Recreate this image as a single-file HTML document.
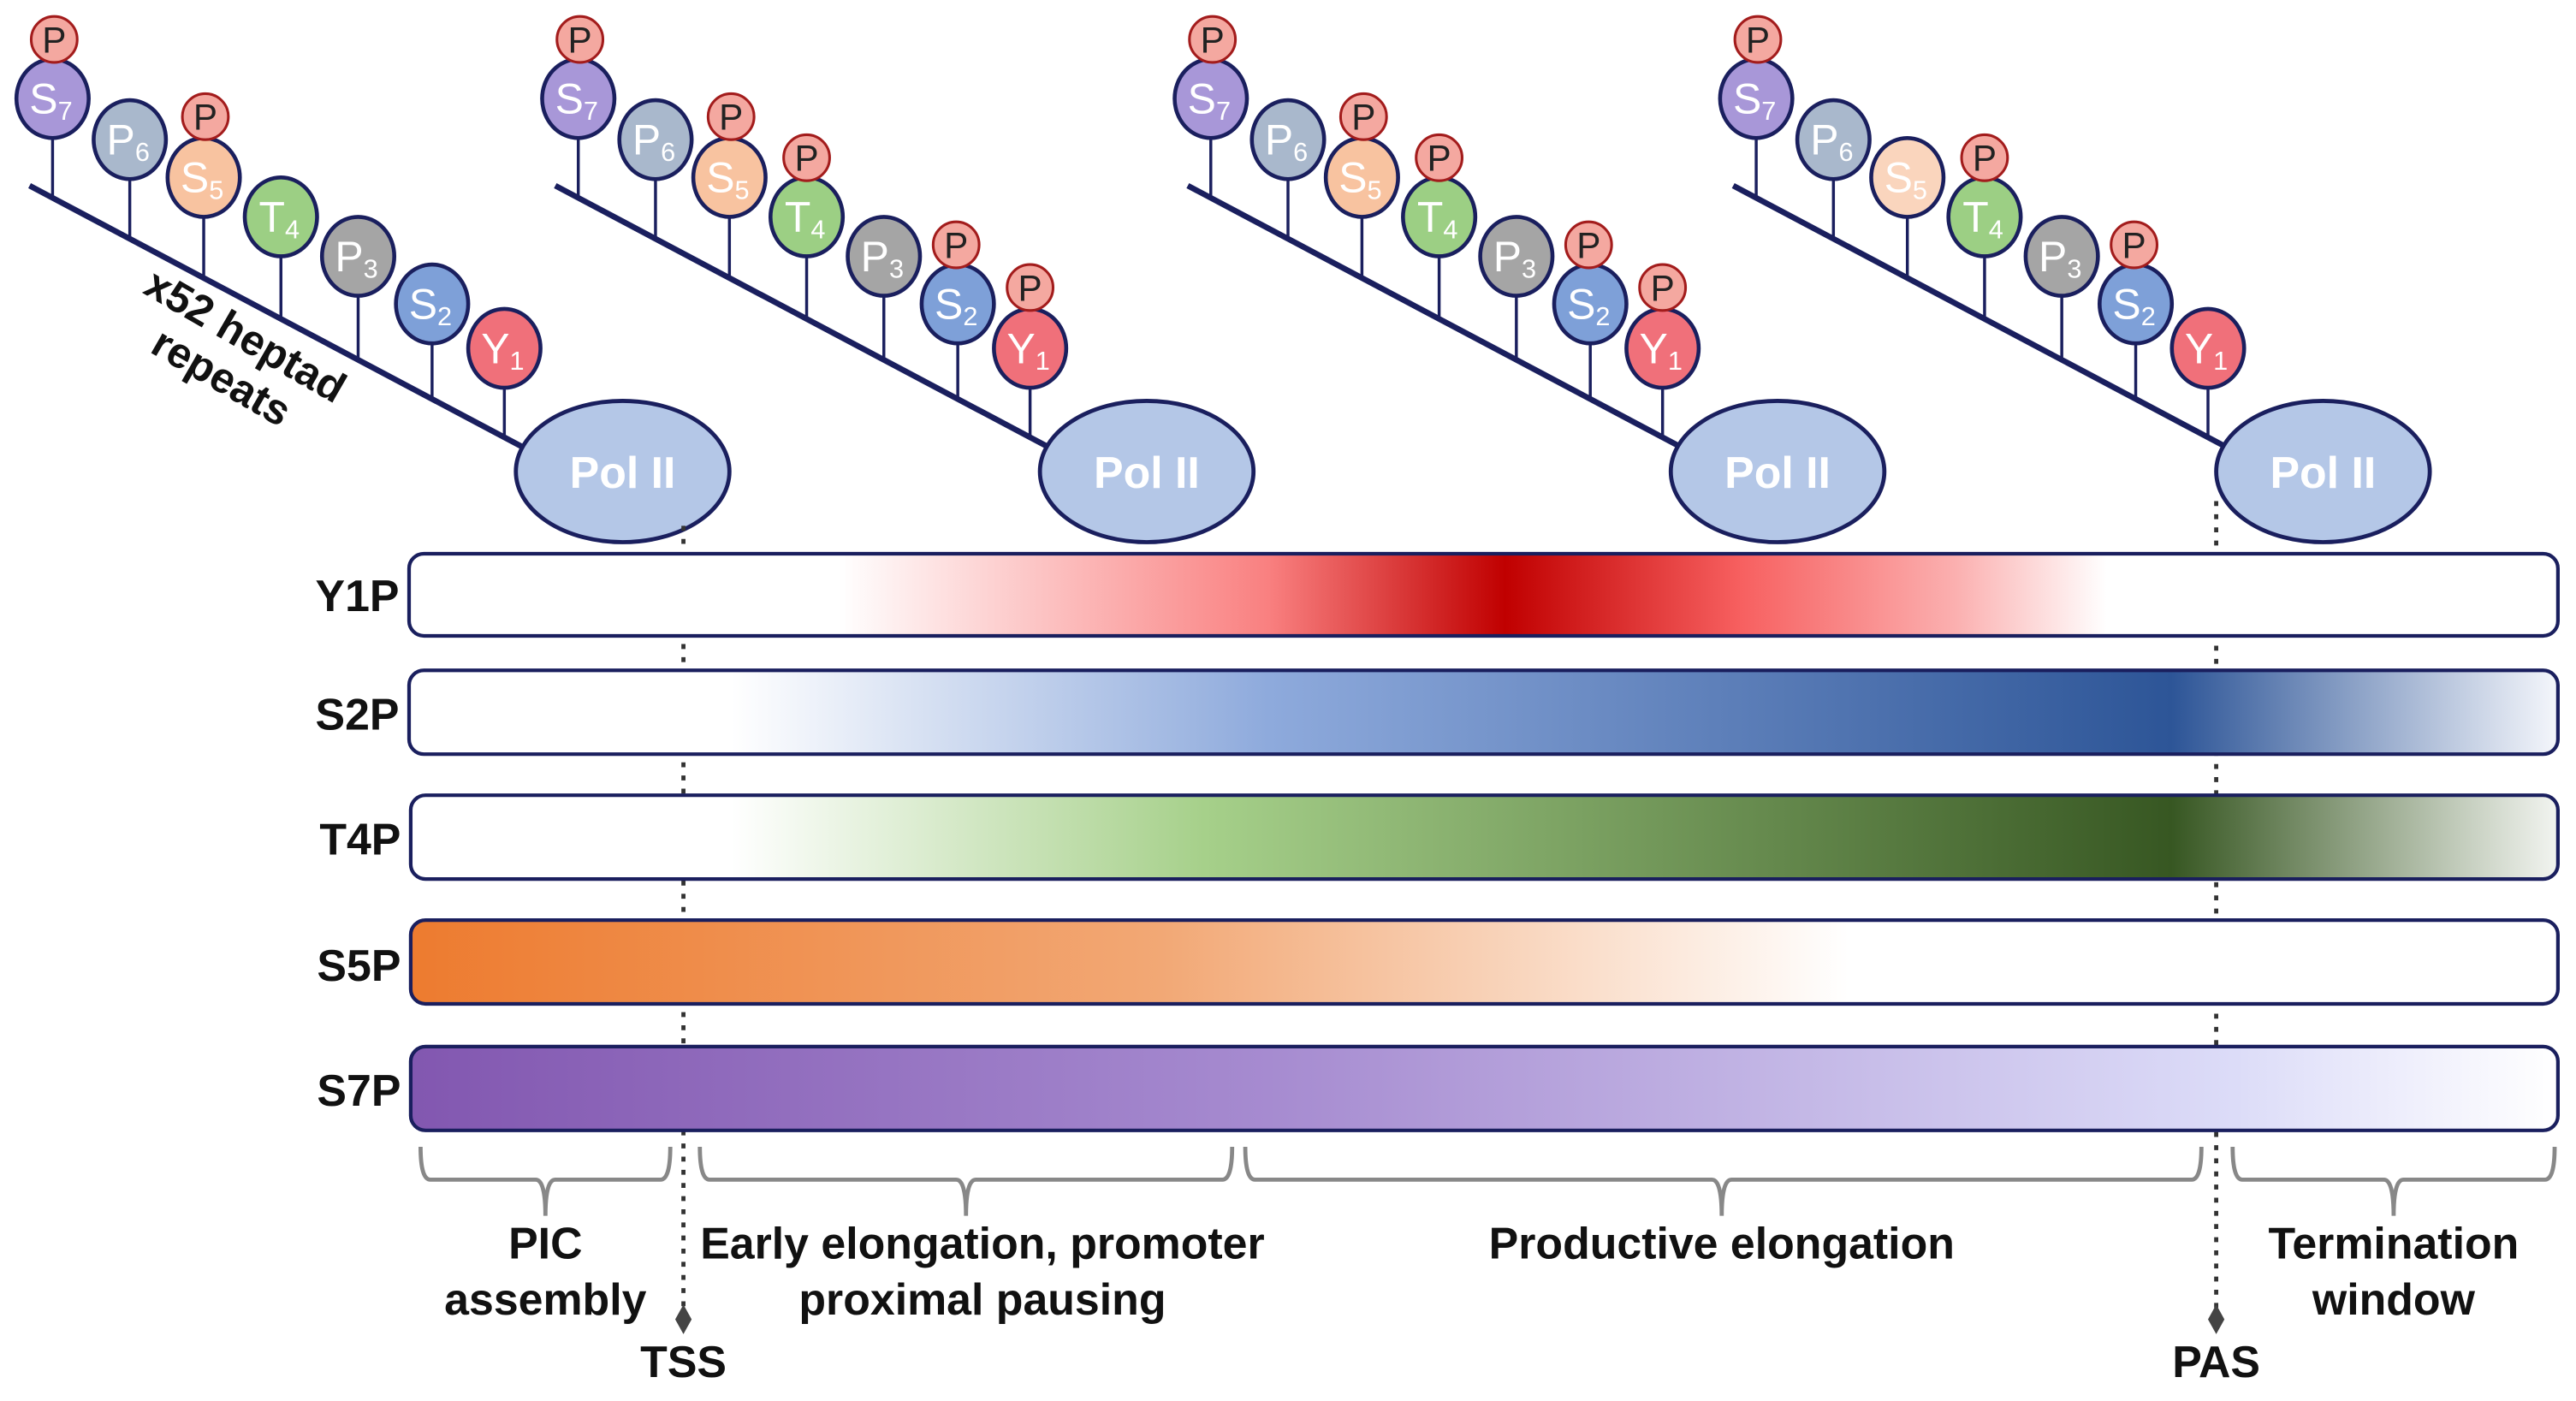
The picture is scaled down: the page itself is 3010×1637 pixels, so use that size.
<!DOCTYPE html>
<html><head><meta charset="utf-8"><style>
html,body{margin:0;padding:0;background:#fff;}
svg{display:block;}
text{font-family:"Liberation Sans",Arial,sans-serif;}
.r{fill:#fff;font-size:26px;text-anchor:middle;}
.p{fill:#222;font-size:22px;text-anchor:middle;}
.lab{fill:#111;font-size:27px;font-weight:bold;}
.c{stroke:#1a1f5e;stroke-width:2.4;}
.st{stroke:#1a1f5e;stroke-width:1.8;}
.pc{fill:#f4a8a0;stroke:#a31c1c;stroke-width:1.6;}
</style></head><body>
<svg width="3010" height="1637" viewBox="0 0 1568 852.7" preserveAspectRatio="none" xmlns="http://www.w3.org/2000/svg">
<defs>
<linearGradient id="gY" x1="249" x2="1557" gradientUnits="userSpaceOnUse">
<stop offset="0.2" stop-color="#fff"/><stop offset="0.4" stop-color="#f98080"/><stop offset="0.51" stop-color="#c00000"/><stop offset="0.62" stop-color="#f76060"/><stop offset="0.72" stop-color="#fbb0b0"/><stop offset="0.79" stop-color="#fff"/></linearGradient>
<linearGradient id="gS2" x1="249" x2="1557" gradientUnits="userSpaceOnUse">
<stop offset="0.15" stop-color="#fff"/><stop offset="0.4" stop-color="#8eaadc"/><stop offset="0.82" stop-color="#2d5597"/><stop offset="1" stop-color="#f4f6fb"/></linearGradient>
<linearGradient id="gT" x1="249" x2="1557" gradientUnits="userSpaceOnUse">
<stop offset="0.15" stop-color="#fff"/><stop offset="0.37" stop-color="#a6d08a"/><stop offset="0.82" stop-color="#375722"/><stop offset="1" stop-color="#f2f4f0"/></linearGradient>
<linearGradient id="gS5" x1="249" x2="1557" gradientUnits="userSpaceOnUse">
<stop offset="0" stop-color="#ed7b2f"/><stop offset="0.35" stop-color="#f2a875"/><stop offset="0.67" stop-color="#fff"/></linearGradient>
<linearGradient id="gS7" x1="249" x2="1557" gradientUnits="userSpaceOnUse">
<stop offset="0" stop-color="#8257b0"/><stop offset="0.4" stop-color="#a68bd0"/><stop offset="0.85" stop-color="#dcdcf8"/><stop offset="1" stop-color="#fff"/></linearGradient>
</defs>

<g id="c1">
<line x1="18" y1="113" x2="318" y2="272" stroke="#1a1f5e" stroke-width="3.5"/>
<line class="st" x1="32" y1="84" x2="32" y2="120"/><line class="st" x1="79" y1="109" x2="79" y2="145"/><line class="st" x1="124" y1="132" x2="124" y2="169"/><line class="st" x1="171" y1="156" x2="171" y2="194"/><line class="st" x1="218" y1="180" x2="218" y2="219"/><line class="st" x1="263" y1="209" x2="263" y2="243"/><line class="st" x1="307" y1="236" x2="307" y2="266"/>
<ellipse class="c" cx="32" cy="60" rx="22" ry="24" fill="#a897d8"/><text class="r" x="31" y="69">S<tspan font-size="16" dy="4">7</tspan></text>
<ellipse class="c" cx="79" cy="85" rx="22" ry="24" fill="#a9b8cc"/><text class="r" x="78" y="94">P<tspan font-size="16" dy="4">6</tspan></text>
<ellipse class="c" cx="124" cy="108" rx="22" ry="24" fill="#f8c3a0"/><text class="r" x="123" y="117">S<tspan font-size="16" dy="4">5</tspan></text>
<ellipse class="c" cx="171" cy="132" rx="22" ry="24" fill="#9ccf84"/><text class="r" x="170" y="141">T<tspan font-size="16" dy="4">4</tspan></text>
<ellipse class="c" cx="218" cy="156" rx="22" ry="24" fill="#a5a5a5"/><text class="r" x="217" y="165">P<tspan font-size="16" dy="4">3</tspan></text>
<ellipse class="c" cx="263" cy="185" rx="22" ry="24" fill="#7ea0d8"/><text class="r" x="262" y="194">S<tspan font-size="16" dy="4">2</tspan></text>
<ellipse class="c" cx="307" cy="212" rx="22" ry="24" fill="#f0707a"/><text class="r" x="306" y="221">Y<tspan font-size="16" dy="4">1</tspan></text>
<ellipse class="pc" cx="33" cy="24" rx="14" ry="14"/><text class="p" x="33" y="32">P</text>
<ellipse class="pc" cx="125" cy="71" rx="14" ry="14"/><text class="p" x="125" y="79">P</text>
<ellipse cx="379" cy="287" rx="65" ry="43" fill="#b4c7e7" stroke="#1a1f5e" stroke-width="2.5"/><text x="379" y="297" fill="#fff" font-size="27" font-weight="bold" text-anchor="middle">Pol II</text>
<text transform="translate(145,212) rotate(30)" font-size="26" font-weight="bold" fill="#111" text-anchor="middle">x52 heptad<tspan x="0" dy="29">repeats</tspan></text>
</g>

<g transform="translate(320,0)">
<line x1="18" y1="113" x2="318" y2="272" stroke="#1a1f5e" stroke-width="3.5"/>
<line class="st" x1="32" y1="84" x2="32" y2="120"/><line class="st" x1="79" y1="109" x2="79" y2="145"/><line class="st" x1="124" y1="132" x2="124" y2="169"/><line class="st" x1="171" y1="156" x2="171" y2="194"/><line class="st" x1="218" y1="180" x2="218" y2="219"/><line class="st" x1="263" y1="209" x2="263" y2="243"/><line class="st" x1="307" y1="236" x2="307" y2="266"/>
<ellipse class="c" cx="32" cy="60" rx="22" ry="24" fill="#a897d8"/><text class="r" x="31" y="69">S<tspan font-size="16" dy="4">7</tspan></text>
<ellipse class="c" cx="79" cy="85" rx="22" ry="24" fill="#a9b8cc"/><text class="r" x="78" y="94">P<tspan font-size="16" dy="4">6</tspan></text>
<ellipse class="c" cx="124" cy="108" rx="22" ry="24" fill="#f8c3a0"/><text class="r" x="123" y="117">S<tspan font-size="16" dy="4">5</tspan></text>
<ellipse class="c" cx="171" cy="132" rx="22" ry="24" fill="#9ccf84"/><text class="r" x="170" y="141">T<tspan font-size="16" dy="4">4</tspan></text>
<ellipse class="c" cx="218" cy="156" rx="22" ry="24" fill="#a5a5a5"/><text class="r" x="217" y="165">P<tspan font-size="16" dy="4">3</tspan></text>
<ellipse class="c" cx="263" cy="185" rx="22" ry="24" fill="#7ea0d8"/><text class="r" x="262" y="194">S<tspan font-size="16" dy="4">2</tspan></text>
<ellipse class="c" cx="307" cy="212" rx="22" ry="24" fill="#f0707a"/><text class="r" x="306" y="221">Y<tspan font-size="16" dy="4">1</tspan></text>
<ellipse class="pc" cx="33" cy="24" rx="14" ry="14"/><text class="p" x="33" y="32">P</text>
<ellipse class="pc" cx="125" cy="71" rx="14" ry="14"/><text class="p" x="125" y="79">P</text>
<ellipse class="pc" cx="171" cy="96" rx="14" ry="14"/><text class="p" x="171" y="104">P</text>
<ellipse class="pc" cx="262" cy="149" rx="14" ry="14"/><text class="p" x="262" y="157">P</text>
<ellipse class="pc" cx="307" cy="175" rx="14" ry="14"/><text class="p" x="307" y="183">P</text>
<ellipse cx="378" cy="287" rx="65" ry="43" fill="#b4c7e7" stroke="#1a1f5e" stroke-width="2.5"/><text x="378" y="297" fill="#fff" font-size="27" font-weight="bold" text-anchor="middle">Pol II</text>
</g>

<g transform="translate(705,0)">
<line x1="18" y1="113" x2="318" y2="272" stroke="#1a1f5e" stroke-width="3.5"/>
<line class="st" x1="32" y1="84" x2="32" y2="120"/><line class="st" x1="79" y1="109" x2="79" y2="145"/><line class="st" x1="124" y1="132" x2="124" y2="169"/><line class="st" x1="171" y1="156" x2="171" y2="194"/><line class="st" x1="218" y1="180" x2="218" y2="219"/><line class="st" x1="263" y1="209" x2="263" y2="243"/><line class="st" x1="307" y1="236" x2="307" y2="266"/>
<ellipse class="c" cx="32" cy="60" rx="22" ry="24" fill="#a897d8"/><text class="r" x="31" y="69">S<tspan font-size="16" dy="4">7</tspan></text>
<ellipse class="c" cx="79" cy="85" rx="22" ry="24" fill="#a9b8cc"/><text class="r" x="78" y="94">P<tspan font-size="16" dy="4">6</tspan></text>
<ellipse class="c" cx="124" cy="108" rx="22" ry="24" fill="#f8c3a0"/><text class="r" x="123" y="117">S<tspan font-size="16" dy="4">5</tspan></text>
<ellipse class="c" cx="171" cy="132" rx="22" ry="24" fill="#9ccf84"/><text class="r" x="170" y="141">T<tspan font-size="16" dy="4">4</tspan></text>
<ellipse class="c" cx="218" cy="156" rx="22" ry="24" fill="#a5a5a5"/><text class="r" x="217" y="165">P<tspan font-size="16" dy="4">3</tspan></text>
<ellipse class="c" cx="263" cy="185" rx="22" ry="24" fill="#7ea0d8"/><text class="r" x="262" y="194">S<tspan font-size="16" dy="4">2</tspan></text>
<ellipse class="c" cx="307" cy="212" rx="22" ry="24" fill="#f0707a"/><text class="r" x="306" y="221">Y<tspan font-size="16" dy="4">1</tspan></text>
<ellipse class="pc" cx="33" cy="24" rx="14" ry="14"/><text class="p" x="33" y="32">P</text>
<ellipse class="pc" cx="125" cy="71" rx="14" ry="14"/><text class="p" x="125" y="79">P</text>
<ellipse class="pc" cx="171" cy="96" rx="14" ry="14"/><text class="p" x="171" y="104">P</text>
<ellipse class="pc" cx="262" cy="149" rx="14" ry="14"/><text class="p" x="262" y="157">P</text>
<ellipse class="pc" cx="307" cy="175" rx="14" ry="14"/><text class="p" x="307" y="183">P</text>
<ellipse cx="377" cy="287" rx="65" ry="43" fill="#b4c7e7" stroke="#1a1f5e" stroke-width="2.5"/><text x="377" y="297" fill="#fff" font-size="27" font-weight="bold" text-anchor="middle">Pol II</text>
</g>

<g transform="translate(1037,0)">
<line x1="18" y1="113" x2="318" y2="272" stroke="#1a1f5e" stroke-width="3.5"/>
<line class="st" x1="32" y1="84" x2="32" y2="120"/><line class="st" x1="79" y1="109" x2="79" y2="145"/><line class="st" x1="124" y1="132" x2="124" y2="169"/><line class="st" x1="171" y1="156" x2="171" y2="194"/><line class="st" x1="218" y1="180" x2="218" y2="219"/><line class="st" x1="263" y1="209" x2="263" y2="243"/><line class="st" x1="307" y1="236" x2="307" y2="266"/>
<ellipse class="c" cx="32" cy="60" rx="22" ry="24" fill="#a897d8"/><text class="r" x="31" y="69">S<tspan font-size="16" dy="4">7</tspan></text>
<ellipse class="c" cx="79" cy="85" rx="22" ry="24" fill="#a9b8cc"/><text class="r" x="78" y="94">P<tspan font-size="16" dy="4">6</tspan></text>
<ellipse class="c" cx="124" cy="108" rx="22" ry="24" fill="#fad5bd"/><text class="r" x="123" y="117">S<tspan font-size="16" dy="4">5</tspan></text>
<ellipse class="c" cx="171" cy="132" rx="22" ry="24" fill="#9ccf84"/><text class="r" x="170" y="141">T<tspan font-size="16" dy="4">4</tspan></text>
<ellipse class="c" cx="218" cy="156" rx="22" ry="24" fill="#a5a5a5"/><text class="r" x="217" y="165">P<tspan font-size="16" dy="4">3</tspan></text>
<ellipse class="c" cx="263" cy="185" rx="22" ry="24" fill="#7ea0d8"/><text class="r" x="262" y="194">S<tspan font-size="16" dy="4">2</tspan></text>
<ellipse class="c" cx="307" cy="212" rx="22" ry="24" fill="#f0707a"/><text class="r" x="306" y="221">Y<tspan font-size="16" dy="4">1</tspan></text>
<ellipse class="pc" cx="33" cy="24" rx="14" ry="14"/><text class="p" x="33" y="32">P</text>
<ellipse class="pc" cx="171" cy="96" rx="14" ry="14"/><text class="p" x="171" y="104">P</text>
<ellipse class="pc" cx="262" cy="149" rx="14" ry="14"/><text class="p" x="262" y="157">P</text>
<ellipse cx="377" cy="287" rx="65" ry="43" fill="#b4c7e7" stroke="#1a1f5e" stroke-width="2.5"/><text x="377" y="297" fill="#fff" font-size="27" font-weight="bold" text-anchor="middle">Pol II</text>
</g>

<line x1="416" y1="320" x2="416" y2="798" stroke="#333" stroke-width="2.5" stroke-dasharray="3,5"/>
<line x1="1349" y1="305" x2="1349" y2="798" stroke="#333" stroke-width="2.5" stroke-dasharray="3,5"/>
<path d="M416 794 L421 803 L416 812 L411 803Z" fill="#444"/>
<path d="M1349 794 L1354 803 L1349 812 L1344 803Z" fill="#444"/>

<rect x="249" y="337" width="1308" height="50" rx="9" fill="url(#gY)" stroke="#1a1f5e" stroke-width="2.2"/>
<rect x="249" y="408" width="1308" height="51" rx="9" fill="url(#gS2)" stroke="#1a1f5e" stroke-width="2.2"/>
<rect x="250" y="484" width="1307" height="51" rx="9" fill="url(#gT)" stroke="#1a1f5e" stroke-width="2.2"/>
<rect x="250" y="560" width="1307" height="51" rx="9" fill="url(#gS5)" stroke="#1a1f5e" stroke-width="2.2"/>
<rect x="250" y="637" width="1307" height="51" rx="9" fill="url(#gS7)" stroke="#1a1f5e" stroke-width="2.2"/>
<text class="lab" x="243" y="372" text-anchor="end">Y1P</text>
<text class="lab" x="243" y="444" text-anchor="end">S2P</text>
<text class="lab" x="244" y="520" text-anchor="end">T4P</text>
<text class="lab" x="244" y="597" text-anchor="end">S5P</text>
<text class="lab" x="244" y="673" text-anchor="end">S7P</text>

<g fill="none" stroke="#888" stroke-width="2.5">
<path d="M256 698 Q256 718 262 718 L326 718 Q332 718 332 740 Q332 718 338 718 L402 718 Q408 718 408 698"/>
<path d="M426 698 Q426 718 432 718 L582 718 Q588 718 588 740 Q588 718 594 718 L744 718 Q750 718 750 698"/>
<path d="M758 698 Q758 718 764 718 L1042 718 Q1048 718 1048 740 Q1048 718 1054 718 L1334 718 Q1340 718 1340 698"/>
<path d="M1359 698 Q1359 718 1365 718 L1451 718 Q1457 718 1457 740 Q1457 718 1463 718 L1549 718 Q1555 718 1555 698"/>
</g>
<text class="lab" x="332" y="766" text-anchor="middle">PIC</text>
<text class="lab" x="332" y="800" text-anchor="middle">assembly</text>
<text class="lab" x="598" y="766" text-anchor="middle">Early elongation, promoter</text>
<text class="lab" x="598" y="800" text-anchor="middle">proximal pausing</text>
<text class="lab" x="1048" y="766" text-anchor="middle">Productive elongation</text>
<text class="lab" x="1457" y="766" text-anchor="middle">Termination</text>
<text class="lab" x="1457" y="800" text-anchor="middle">window</text>
<text class="lab" x="416" y="838" text-anchor="middle">TSS</text>
<text class="lab" x="1349" y="838" text-anchor="middle">PAS</text>
</svg>
</body></html>
